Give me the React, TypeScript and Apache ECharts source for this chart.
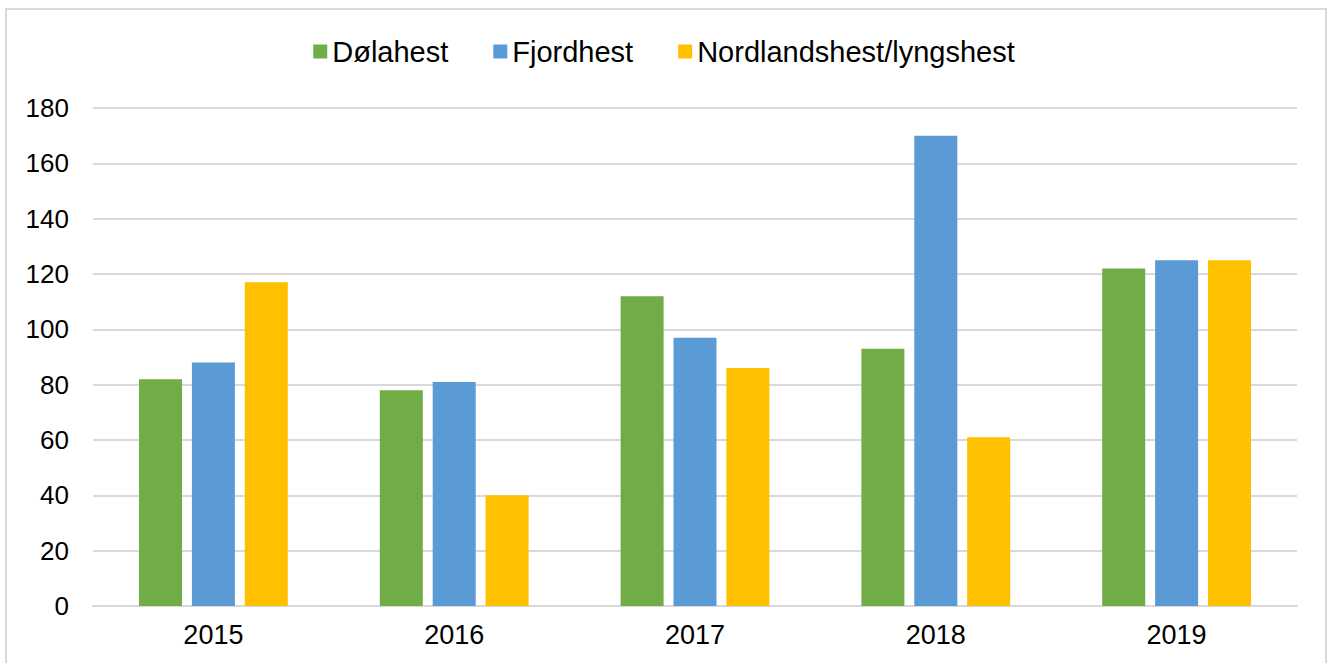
import React, { useEffect, useRef } from "react";
import * as echarts from "echarts";

const categories = ["2015", "2016", "2017", "2018", "2019"];
const seriesNames = ["Dølahest", "Fjordhest", "Nordlandshest/lyngshest"];
const dolahest = [82, 78, 112, 93, 122];
const fjordhest = [88, 81, 97, 170, 125];
const nordlandshest = [117, 40, 86, 61, 125];
const colors = ["#70ad47", "#5b9bd5", "#ffc000"];
const yTicks = { min: 0, max: 180, interval: 20 };

export default function App() {
  const ref = useRef<HTMLDivElement>(null);
  useEffect(() => {
    if (!ref.current) return;
    const chart = echarts.init(ref.current, null, { renderer: "svg" });
    const font = "'Liberation Sans', Arial, sans-serif";
    const values = [dolahest, fjordhest, nordlandshest];
    chart.setOption({
      animation: false,
      backgroundColor: "#ffffff",
      textStyle: { fontFamily: font },
      graphic: [
        {
          type: "rect",
          shape: { x: 6, y: 9, width: 1320, height: 700 },
          style: { fill: "none", stroke: "#d9d9d9", lineWidth: 2 },
          silent: true,
        },
      ],
      legend: {
        top: 32,
        left: "center",
        itemWidth: 14,
        itemHeight: 14,
        itemGap: 45,
        icon: "rect",
        textStyle: { fontSize: 29, color: "#000000", fontFamily: font },
        data: seriesNames,
      },
      grid: { left: 93, right: 31, top: 108, bottom: 57, containLabel: false },
      xAxis: {
        type: "category",
        data: categories,
        axisLine: { show: true, lineStyle: { color: "#d9d9d9", width: 2 } },
        axisTick: { show: false },
        axisLabel: { fontSize: 27, color: "#000000", margin: 15, fontFamily: font },
      },
      yAxis: {
        type: "value",
        min: yTicks.min,
        max: yTicks.max,
        interval: yTicks.interval,
        axisLine: { show: false },
        axisTick: { show: false },
        splitLine: { lineStyle: { color: "#d9d9d9", width: 2 } },
        axisLabel: { fontSize: 26, color: "#000000", margin: 24, fontFamily: font },
      },
      series: seriesNames.map((name, i) => ({
        name,
        type: "bar",
        data: values[i],
        barWidth: 43,
        barGap: "23%",
        itemStyle: { color: colors[i] },
      })),
    });
    return () => chart.dispose();
  }, []);
  return (
    <div
      ref={ref}
      style={{ position: "absolute", left: 0, top: 0, width: 1328, height: 663 }}
    />
  );
}
